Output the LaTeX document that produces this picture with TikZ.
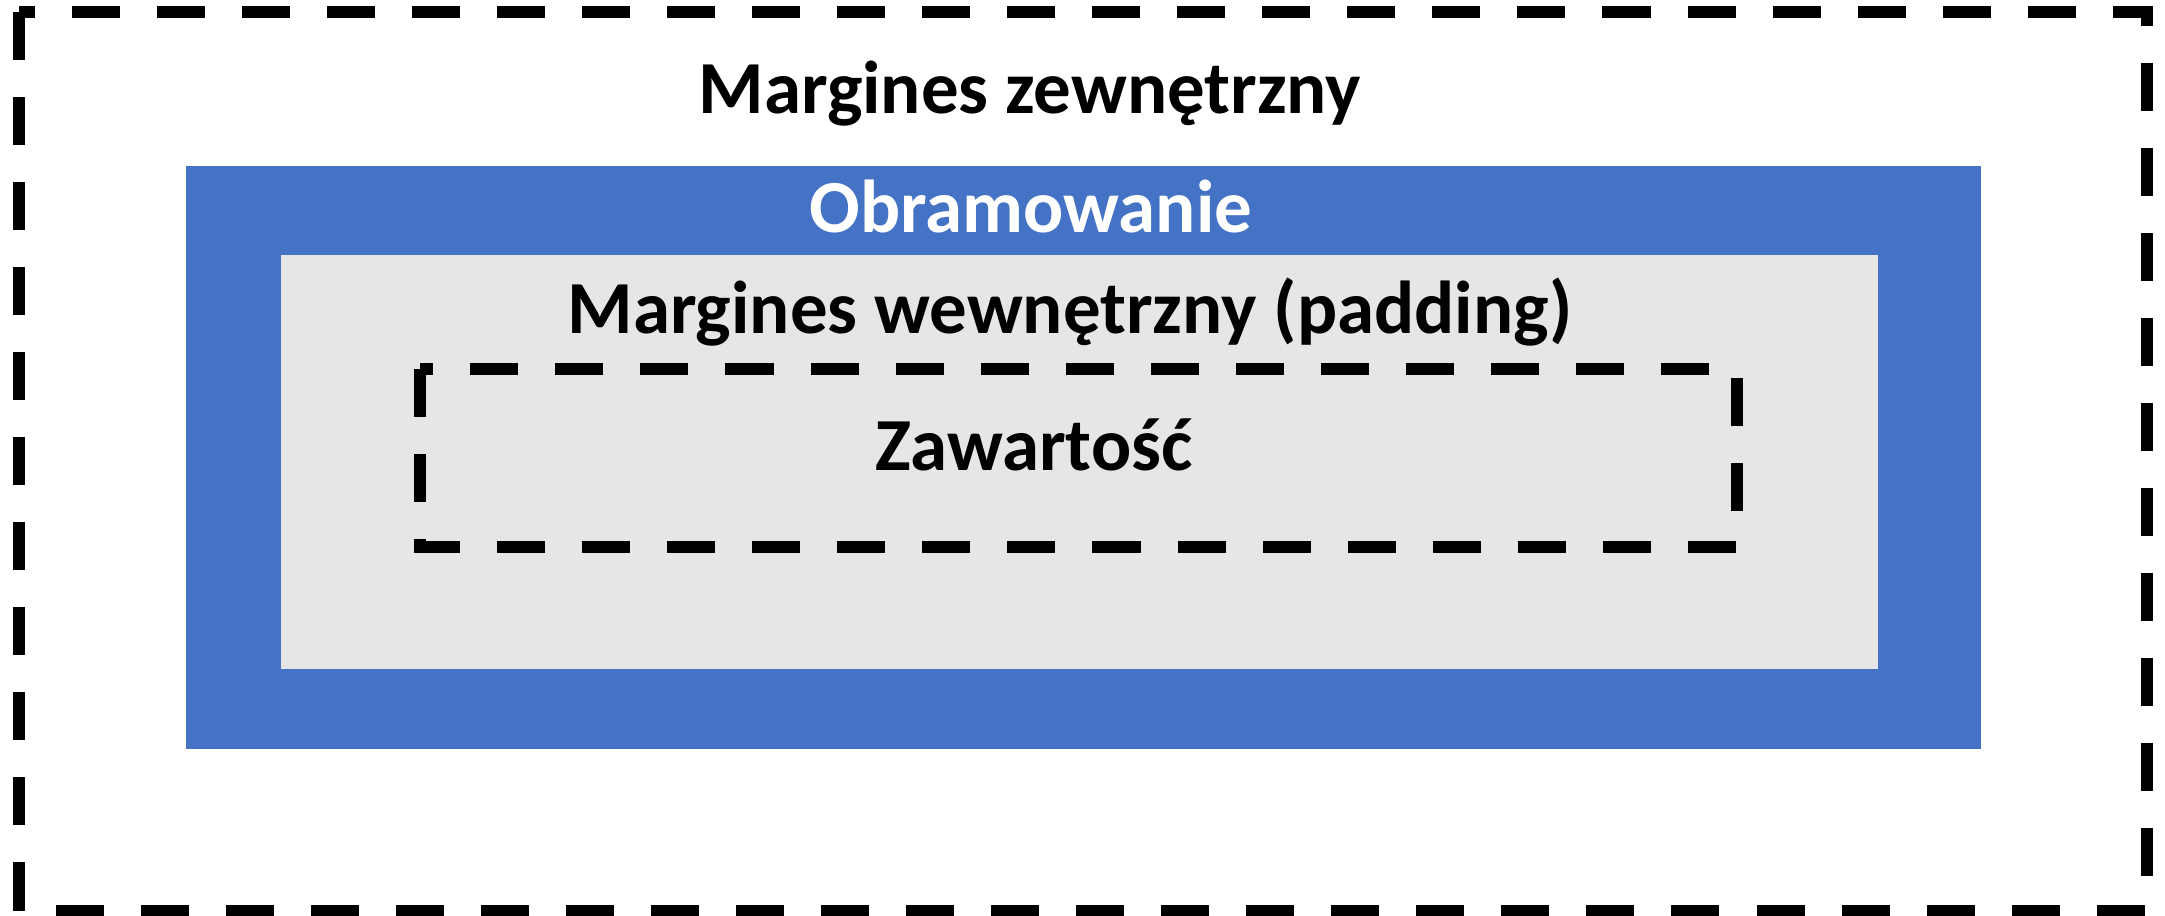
\documentclass[tikz,border=0pt]{standalone}
\usepackage{fontspec}
\setmainfont{Carlito}
\usetikzlibrary{positioning}

\definecolor{borderblue}{HTML}{4472C4}
\definecolor{paddinggray}{HTML}{E6E6E6}

\tikzset{
  dashbox/.style={draw=black, line width=0.12cm, dash pattern=on 0.48cm off 0.37cm},
  borderbox/.style={fill=borderblue, draw=none},
  paddingbox/.style={fill=paddinggray, draw=none},
  boxlabel/.style={font=\bfseries\fontsize{21.3}{25}\selectfont, anchor=base, inner sep=0pt}
}

\begin{document}
\begin{tikzpicture}[x=0.01cm, y=-0.01cm]

\useasboundingbox (0,0) rectangle (2165,916);

% define boxes

% border and padding
\fill[borderbox] (186,166) rectangle (1981,749);
\fill[paddingbox] (281,255) rectangle (1878,669);
% margin and content
\draw[dashbox] (19,12) rectangle (2147,911);
\draw[dashbox] (420,369) rectangle (1737,547);

% labels

\node[boxlabel] (margin) at (1030,114) {Margines zewnętrzny};
\node[boxlabel, text=white] (border) at (1031,233) {Obramowanie};
\node[boxlabel] (padding) at (1070,334) {Margines wewnętrzny (padding)};
\node[boxlabel] (content) at (1034,471) {Zawartość};

\end{tikzpicture}
\end{document}
